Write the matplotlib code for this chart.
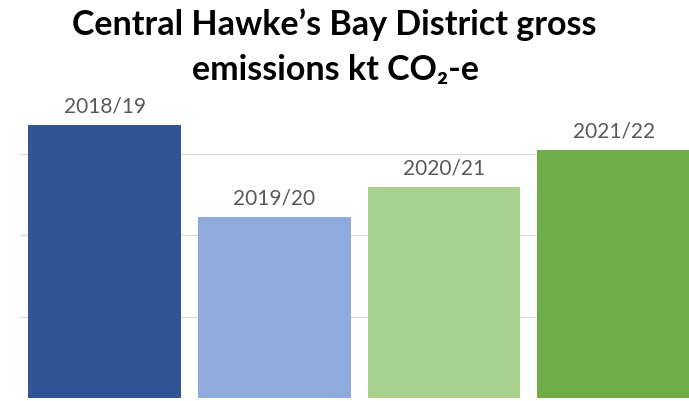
import matplotlib
matplotlib.use("Agg")
import matplotlib.pyplot as plt

# data (kt CO2-e; axis has no visible labels)
years = ["2018/19", "2019/20", "2020/21", "2021/22"]
emissions = [670, 444, 518, 609]
bar_colors = ["#2F5597", "#8FAADC", "#A9D18E", "#70AD47"]

plt.rcParams['font.family'] = ['Lato', 'DejaVu Sans']

fig = plt.figure(figsize=(6.89, 4.01), dpi=100)
W, H = 689, 401

# axes runs off the right edge, like the cropped original
left, right = 19.7, 698.5
bottom, top = 398, 110
ax = fig.add_axes([left / W, 1 - bottom / H, (right - left) / W, (bottom - top) / H])

x = range(len(years))
ax.bar(x, emissions, width=0.9, color=bar_colors, zorder=2)
for xi, v, lab in zip(x, emissions, years):
    ax.annotate(lab, (xi, v), xytext=(0, 6), textcoords='offset points',
                ha='center', va='bottom', fontsize=15, color='#595959')

ax.set_xlim(-0.5, len(years) - 0.5)
ax.set_ylim(0, (bottom - top) / 81.5 * 200)
ax.set_yticks([0, 200, 400, 600])
ax.yaxis.grid(True, color='#D9D9D9', linewidth=0.8, zorder=0)
ax.tick_params(left=False, bottom=False, labelleft=False, labelbottom=False)
for s in ax.spines.values():
    s.set_visible(False)

# two-line title, placed line by line
fig.text(334 / W, 1 - 35 / H, "Central Hawke\u2019s Bay District gross",
         ha='center', va='baseline', fontsize=24.5, fontweight='bold', color='black')
fig.text(335 / W, 1 - 80 / H, "emissions kt CO\u2082-e",
         ha='center', va='baseline', fontsize=24.5, fontweight='bold', color='black')

fig.savefig("out.png", dpi=100)
